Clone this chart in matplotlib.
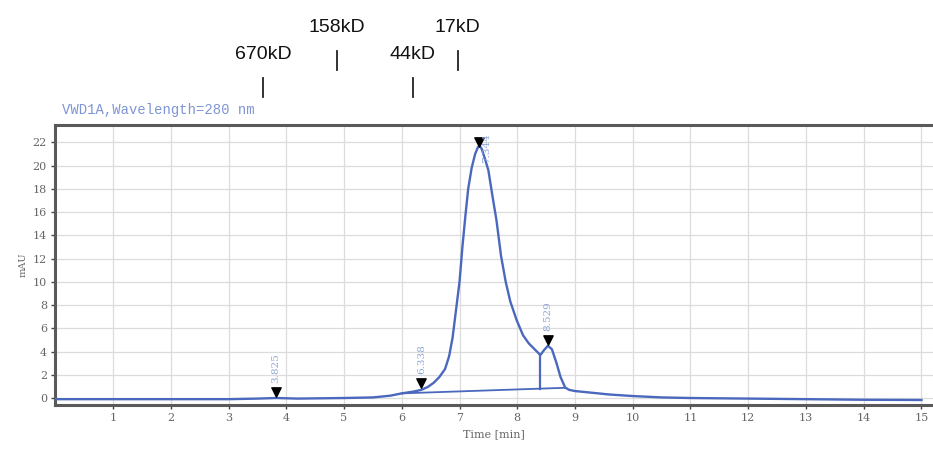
import numpy as np
import matplotlib
matplotlib.use("Agg")
import matplotlib.pyplot as plt
import matplotlib.transforms as mtransforms

# chromatogram trace (time in min, signal in mAU)
time_min = [0.0, 1.0, 2.0, 3.0, 3.5, 3.825, 4.2, 5.0, 5.5, 5.8, 6.0, 6.2,
            6.338, 6.45, 6.55, 6.65, 6.75, 6.82, 6.88, 6.94, 7.0, 7.05,
            7.1, 7.15, 7.21, 7.27, 7.32, 7.344, 7.38, 7.44, 7.5, 7.57,
            7.64, 7.72, 7.8, 7.88, 7.99, 8.1, 8.2, 8.3, 8.4, 8.46, 8.53,
            8.6, 8.68, 8.75, 8.83, 8.9, 9.0, 9.3, 9.6, 10.0, 10.5, 11.0,
            12.0, 13.0, 14.0, 15.0]
signal = [-0.1, -0.1, -0.1, -0.1, -0.05, 0.0, -0.05, 0.0, 0.05, 0.2, 0.4,
          0.55, 0.7, 0.95, 1.3, 1.8, 2.5, 3.6, 5.2, 7.6, 10.0, 13.0, 15.6,
          18.0, 19.8, 21.0, 21.6, 21.7, 21.5, 20.6, 19.6, 17.4, 15.3, 12.2,
          10.0, 8.3, 6.7, 5.4, 4.7, 4.2, 3.7, 4.1, 4.5, 4.2, 3.0, 1.8, 0.9,
          0.7, 0.6, 0.45, 0.3, 0.17, 0.05, 0.0, -0.05, -0.1, -0.15, -0.17]

# integration baseline and drop line
base_x = [6.0, 8.83]
base_y = [0.4, 0.88]
drop_x = [8.40, 8.40]
drop_y = [0.8, 3.7]

# peak marks
peak_rt = [3.825, 6.338, 7.344, 8.529]
peak_mark_y = [0.55, 1.3, 22.0, 5.0]
peak_text = ["3.825", "6.338", "7.344", "8.529"]
peak_text_x = [3.825, 6.338, 7.47, 8.529]
peak_text_y = [1.3, 2.1, 20.2, 5.8]

# size standards drawn above the chart
std_names = ["670kD", "158kD", "44kD", "17kD"]
std_x = [3.60, 4.88, 6.19, 6.97]
std_row = [0, 1, 0, 1]

line_col = "#4a68bd"
text_col = "#8ea6d8"

fig = plt.figure(figsize=(9.33, 4.53), dpi=100)
ax = fig.add_axes([0.0593, 0.106, 0.9407, 0.618])

ax.plot(time_min, signal, color=line_col, lw=1.7, zorder=3)
ax.plot(base_x, base_y, color=line_col, lw=1.3, zorder=3)
ax.plot(drop_x, drop_y, color=line_col, lw=1.6, zorder=3)
ax.scatter(peak_rt, peak_mark_y, marker="v", s=45, color="black", zorder=4)
for tx, ty, t in zip(peak_text_x, peak_text_y, peak_text):
    ax.text(tx, ty, t, rotation=90, ha="center", va="bottom", fontsize=7.5,
            family="DejaVu Serif", color=text_col, zorder=4, clip_on=True)

ax.set_xlim(0, 15.2)
ax.set_ylim(-0.6, 23.5)
ax.set_xticks(range(1, 16))
ax.set_yticks(range(0, 23, 2))
ax.grid(True, color="#dcdcdc", lw=0.9)
ax.set_axisbelow(True)

for side in ["top", "left", "bottom"]:
    ax.spines[side].set_color("#5a5a5a")
    ax.spines[side].set_linewidth(2.2)
ax.spines["right"].set_visible(False)

ax.tick_params(direction="out", length=3, width=1, colors="#444444",
               labelsize=8, pad=3)
for lab in ax.get_xticklabels() + ax.get_yticklabels():
    lab.set_family("DejaVu Serif")
    lab.set_color("#666666")

ax.set_xlabel("Time [min]", fontsize=8, family="DejaVu Serif",
              color="#666666", labelpad=4)
ax.set_ylabel("mAU", fontsize=7, family="DejaVu Serif", color="#666666",
              labelpad=4)

ax.text(0.008, 1.03, "VWD1A,Wavelength=280 nm", transform=ax.transAxes,
        fontsize=10, family="Liberation Mono", color="#7f95d4", va="bottom")

# molecular weight markers
trans = mtransforms.blended_transform_factory(ax.transData, ax.transAxes)
for name, sx, row in zip(std_names, std_x, std_row):
    lo = 1.10 + 0.098 * row
    ax.plot([sx, sx], [lo, lo + 0.068], color="#222222", lw=1.3,
            transform=trans, clip_on=False)
    ax.text(sx, lo + 0.12, name, transform=trans, ha="center",
            va="bottom", fontsize=14, family="Liberation Sans",
            color="#111111")

fig.savefig("out.png", dpi=100)
